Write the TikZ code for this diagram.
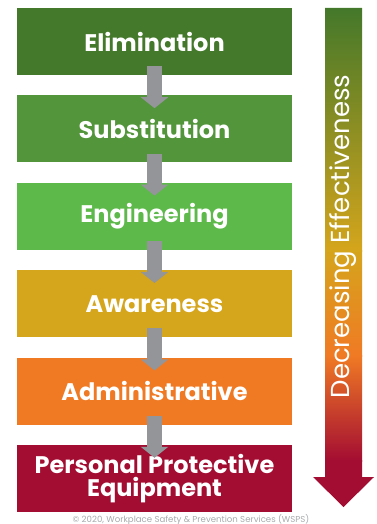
\documentclass[tikz,border=0pt]{standalone}
\usepackage{fontspec}
\setmainfont{Poppins}
\usetikzlibrary{positioning,arrows.meta}

\definecolor{elimGreen}{HTML}{44782A}
\definecolor{substGreen}{HTML}{53953A}
\definecolor{enginGreen}{HTML}{5DB94A}
\definecolor{awareGold}{HTML}{D5A51C}
\definecolor{adminOrange}{HTML}{F07A24}
\definecolor{ppeRed}{HTML}{A30D32}
\definecolor{stepGray}{HTML}{939598}
\definecolor{noteGray}{HTML}{A7A9AC}

\tikzset{
  levelbox/.style={minimum width=275pt, minimum height=67pt, inner sep=0pt,
    text=white, font=\fontsize{24}{23}\selectfont\bfseries, align=center},
  steparrow/.style={draw=stepGray, line width=15pt,
    -{Triangle[width=27pt,length=11pt]}},
}

\begin{document}
\begin{tikzpicture}[x=1pt,y=1pt,yscale=-1,xscale=1]
	\useasboundingbox (0,0) rectangle (376,524);
	
	%Shape: Rectangles
	\node[levelbox, fill=elimGreen] (elim) at (154.5,41.5) {Elimination};
	\node[levelbox, fill=substGreen, below=20pt of elim] (subst) {Substitution};
	\node[levelbox, fill=enginGreen, below=20pt of subst] (engin) {Engineering};
	\node[levelbox, fill=awareGold, below=20pt of engin] (aware) {Awareness};
	\node[levelbox, fill=adminOrange, below=20pt of aware] (admin) {Administrative};
	\node[levelbox, fill=ppeRed, below=20pt of admin] (ppe) {Personal Protective\\Equipment};
	
	%Straight Lines
	\foreach \a/\b in {elim/subst, subst/engin, engin/aware, aware/admin, admin/ppe}
	  \draw[steparrow] ([yshift=-9pt]\a.south) -- ([yshift=13pt]\b.north);
	
	%Shape: Big arrow
	\begin{scope}
	  \clip (325,8) -- (362,8) -- (362,477) -- (374,477) -- (343.5,507) -- (313,477) -- (325,477) -- cycle;
	  \shade[top color=elimGreen, bottom color=awareGold] (310,8) rectangle (376,251);
	  \shade[top color=awareGold, bottom color=adminOrange] (310,250) rectangle (376,356);
	  \shade[top color=adminOrange, bottom color=ppeRed] (310,355) rectangle (376,461);
	  \fill[ppeRed] (310,460) rectangle (376,510);
	\end{scope}
	
	% Text Node
	\node[rotate=90, text=white, font=\fontsize{26}{28}\selectfont] (effect) at (343.5,236.5) {Decreasing Effectiveness};
	% Text Node
	\node[text=noteGray, font=\fontsize{8.6}{9}\selectfont] (note) at (191,519.5) {\textcopyright{} 2020, Workplace Safety \& Prevention Services (WSPS)};
	
\end{tikzpicture}
\end{document}
